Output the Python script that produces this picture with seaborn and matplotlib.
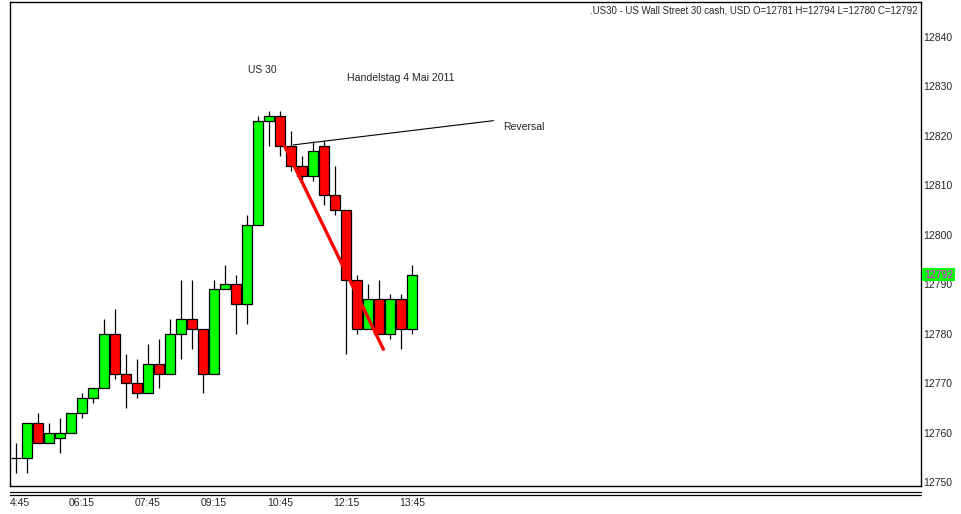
import numpy as np
import pandas as pd
import matplotlib.pyplot as plt
import matplotlib.transforms as mtransforms
from matplotlib.lines import Line2D
import seaborn as sns

# 15 minute candles, US30, 4 May 2011 (bar 0 = 04:45)
opens = [12755, 12755, 12762, 12758, 12759, 12760, 12764, 12767, 12769, 12780,
         12772, 12770, 12768, 12774, 12772, 12780, 12783, 12781, 12772, 12789,
         12790, 12786, 12802, 12823, 12824, 12818, 12814, 12812, 12818, 12808,
         12805, 12791, 12781, 12787, 12780, 12787, 12781]
highs = [12758, 12762, 12764, 12762, 12763, 12764, 12768, 12769, 12783, 12785,
         12776, 12775, 12778, 12779, 12783, 12791, 12791, 12781, 12791, 12794,
         12792, 12804, 12824, 12825, 12825, 12821, 12816, 12819, 12819, 12814,
         12805, 12792, 12790, 12791, 12788, 12788, 12794]
lows = [12752, 12752, 12758, 12758, 12756, 12760, 12763, 12766, 12769, 12771,
        12765, 12767, 12768, 12769, 12772, 12775, 12777, 12768, 12772, 12789,
        12780, 12782, 12802, 12818, 12816, 12813, 12811, 12811, 12806, 12804,
        12776, 12780, 12781, 12780, 12779, 12777, 12780]
closes = [12755, 12762, 12758, 12760, 12760, 12764, 12767, 12769, 12780, 12772,
          12770, 12768, 12774, 12772, 12780, 12783, 12781, 12772, 12789, 12790,
          12786, 12802, 12823, 12824, 12818, 12814, 12812, 12817, 12808, 12805,
          12791, 12781, 12787, 12780, 12787, 12781, 12792]

tick_bars = [0, 6, 12, 18, 24, 30, 36]
tick_labels = ['4:45', '06:15', '07:45', '09:15', '10:45', '12:15', '13:45']
price_ticks = [12750, 12760, 12770, 12780, 12790, 12800, 12810, 12820, 12830, 12840]

# drawn lines (bar position, price)
red_line_x = [24.45, 33.4]
red_line_y = [12817.8, 12776.9]
rev_line_x = [25.2, 43.4]
rev_line_y = [12818.2, 12823.1]

df = pd.DataFrame({'open': opens, 'high': highs, 'low': lows, 'close': closes})
df['bar'] = np.arange(len(df))
df['up'] = df['close'] >= df['open']

sns.set_style('white')
plt.rcParams['font.family'] = ['Liberation Sans', 'DejaVu Sans']

fig = plt.figure(figsize=(9.62, 5.14), dpi=100)
ax = fig.add_axes([10 / 962, 28 / 514, 911 / 962, 484 / 514])

# wicks
ax.vlines(df['bar'], df['low'], df['high'], color='black', lw=0.9, zorder=2)
# bodies
body_bottom = df[['open', 'close']].min(axis=1)
body_height = (df['close'] - df['open']).abs()
colors = np.where(df['up'], '#00ff00', '#ff0000')
ax.bar(df['bar'], body_height, bottom=body_bottom, width=0.97, color=colors,
       edgecolor='black', linewidth=0.9, zorder=3)

sns.lineplot(x=red_line_x, y=red_line_y, ax=ax, color='#ff0000', lw=2.4, zorder=4)
sns.lineplot(x=rev_line_x, y=rev_line_y, ax=ax, color='black', lw=0.8, zorder=4)

ax.text(21.1, 12833.3, 'US 30', fontsize=7.5, va='center', ha='left')
ax.text(30.1, 12831.7, 'Handelstag 4 Mai 2011', fontsize=7.6, va='center', ha='left')
ax.text(44.3, 12821.8, 'Reversal', fontsize=7.5, va='center', ha='left')
ax.text(0.9965, 0.993, '.US30 - US Wall Street 30 cash, USD O=12781 H=12794 L=12780 C=12792',
        transform=ax.transAxes, ha='right', va='top', fontsize=6.9)

ax.set_xlim(-0.545, 82.27)
ax.set_ylim(12749.29, 12847.07)
ax.set_xticks(tick_bars)
ax.set_xticklabels(tick_labels)
ax.set_yticks(price_ticks)
ax.yaxis.tick_right()
ax.tick_params(axis='y', length=0, pad=1.5, labelsize=7.5)
ax.tick_params(axis='x', length=0, pad=9, labelsize=7.5)
# first time label is pushed against the left edge, like the terminal does
first = ax.get_xticklabels()[0]
first.set_horizontalalignment('left')
first.set_transform(first.get_transform() +
                    mtransforms.ScaledTranslation(-6 / 100, 0, fig.dpi_scale_trans))
for sp in ax.spines.values():
    sp.set_color('black')
    sp.set_linewidth(1)
    sp.set_visible(True)

# last price marker on the scale
ax.text(1.003, closes[-1], str(closes[-1]), transform=ax.get_yaxis_transform(),
        ha='left', va='center', fontsize=7.5, color='#ff00ff',
        bbox=dict(boxstyle='square,pad=0.15', facecolor='#00ff00', edgecolor='none'))

# double separator line under the chart
for yy in (492, 495):
    fig.add_artist(Line2D([10 / 962, 921 / 962], [1 - yy / 514, 1 - yy / 514],
                          color='black', lw=0.9))

fig.savefig('out.png', dpi=100, facecolor='white')
